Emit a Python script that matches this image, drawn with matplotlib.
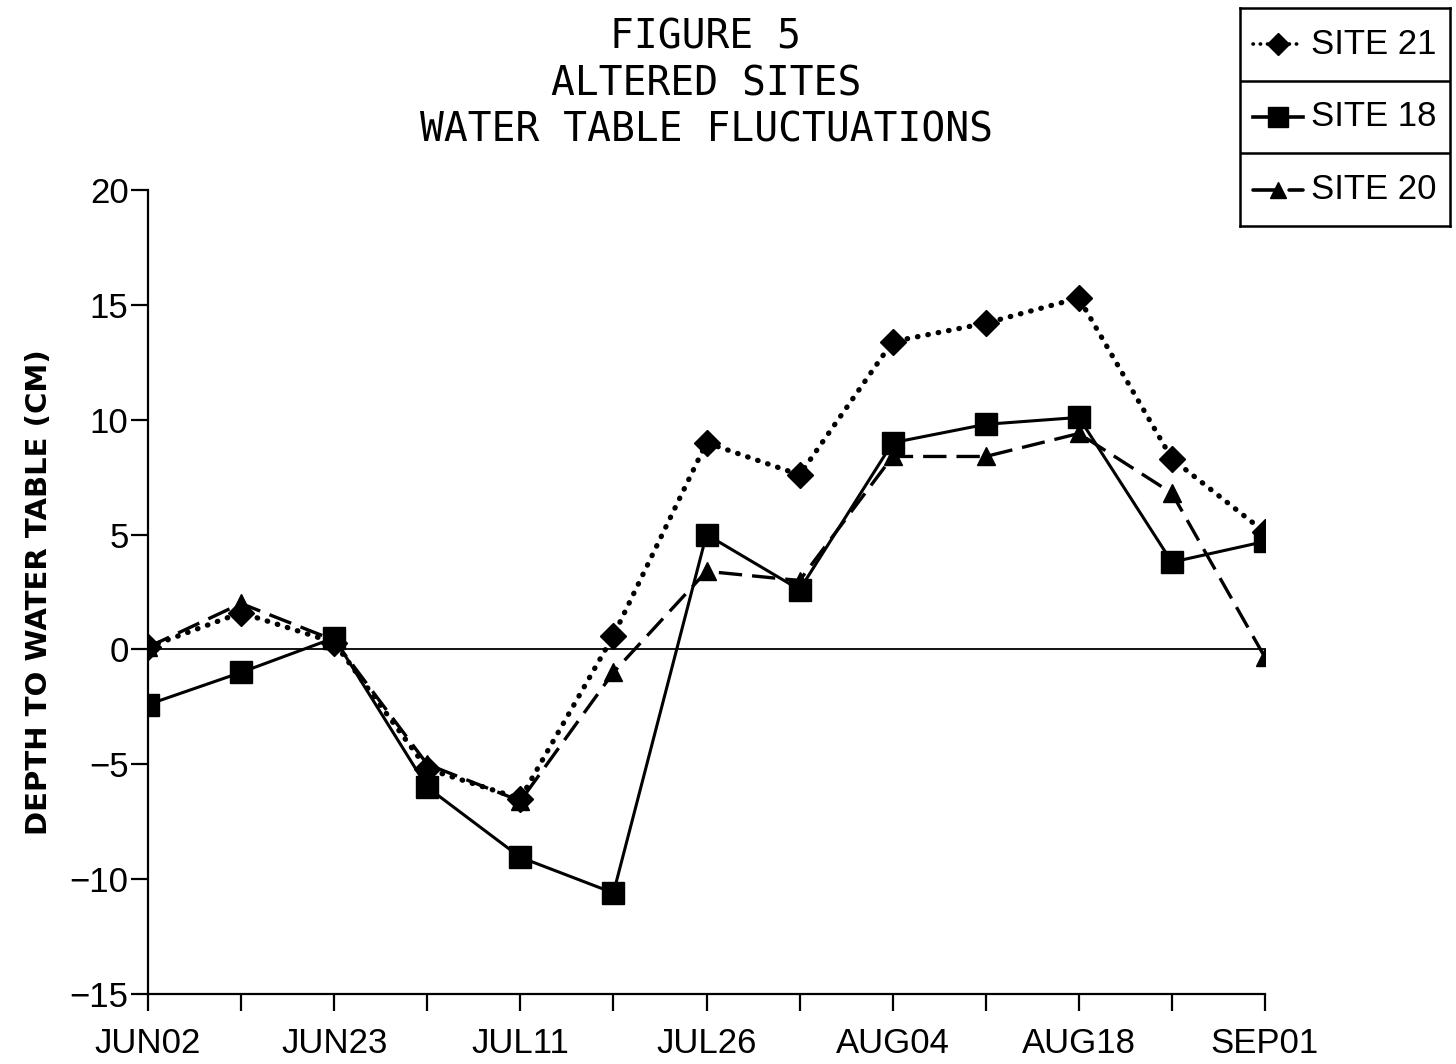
import matplotlib
matplotlib.use("Agg")
import matplotlib.pyplot as plt
from matplotlib.lines import Line2D

# sampling dates (every other tick is labelled)
date_labels = ["JUN02", "", "JUN23", "", "JUL11", "", "JUL26", "", "AUG04", "", "AUG18", "", "SEP01"]

site21 = [0.1, 1.6, 0.3, -5.2, -6.5, 0.6, 9.0, 7.6, 13.4, 14.2, 15.3, 8.3, 5.1]
site18 = [-2.4, -1.0, 0.5, -6.0, -9.05, -10.6, 5.0, 2.6, 9.0, 9.8, 10.1, 3.8, 4.7]
site20 = [0.1, 2.0, 0.4, -5.0, -6.6, -1.0, 3.4, 3.0, 8.4, 8.4, 9.4, 6.8, -0.35]

yticks = [-15, -10, -5, 0, 5, 10, 15, 20]

dotted = (0, (0.1, 1.9))
dashed = (0, (7, 3))

fig = plt.figure(figsize=(14.56, 10.64), dpi=100)
ax = fig.add_axes([148/1456, 70/1064, 1117/1456, 804/1064])

x = list(range(len(date_labels)))

ax.axhline(0, color="black", lw=1.3, zorder=1)

ax.plot(x, site20, color="black", lw=2.4, ls=dashed, marker="^", ms=13, zorder=3)
ax.plot(x, site18, color="black", lw=2.2, ls="-", marker="s", ms=16, zorder=4)
ax.plot(x, site21, color="black", lw=3.8, ls=dotted, dash_capstyle="round",
        marker="D", ms=13, zorder=5)

ax.set_xlim(0, 12)
ax.set_ylim(-15, 20)
ax.set_xticks(x)
ax.set_xticklabels(date_labels)
ax.set_yticks(yticks)
ax.set_yticklabels([str(v).replace("-", "\u2212") for v in yticks])

for s in ["top", "right"]:
    ax.spines[s].set_visible(False)
ax.spines["left"].set_linewidth(1.6)
ax.spines["bottom"].set_linewidth(1.6)
ax.tick_params(axis="both", direction="out", length=12, width=1.6, labelsize=25)
ax.tick_params(axis="x", pad=12)
ax.tick_params(axis="y", pad=2)
for lab in ax.get_xticklabels() + ax.get_yticklabels():
    lab.set_fontfamily("Liberation Sans")

ax.set_ylabel("DEPTH TO WATER TABLE (CM)", fontsize=21, fontweight="bold",
              fontfamily="DejaVu Sans", labelpad=12)

fig.text(706/1456, 1 - 84/1064, "FIGURE 5\nALTERED SITES\nWATER TABLE FLUCTUATIONS",
         ha="center", va="center", fontsize=28.5, fontfamily="DejaVu Sans Mono",
         linespacing=1.2)

# boxed legend, one cell per site
lax = fig.add_axes([1240/1456, 1 - 226/1064, 210/1456, 218/1064])
lax.set_xlim(0, 1)
lax.set_ylim(0, 3)
lax.set_xticks([])
lax.set_yticks([])
for s in lax.spines.values():
    s.set_linewidth(1.8)
for yy in [1, 2]:
    lax.axhline(yy, color="black", lw=1.8)
entries = [("SITE 21", dotted, "D", 11), ("SITE 18", "-", "s", 14), ("SITE 20", dashed, "^", 11)]
for i, (name, ls, mk, ms) in enumerate(entries):
    yc = 2.5 - i
    lax.add_line(Line2D([0.06, 0.3], [yc, yc], color="black", lw=2.6, ls=ls,
                        dash_capstyle="round"))
    lax.plot([0.18], [yc], color="black", marker=mk, ms=ms)
    lax.text(0.34, yc, name, va="center", ha="left", fontsize=25, fontfamily="Liberation Sans")

fig.savefig("out.png", dpi=100)
